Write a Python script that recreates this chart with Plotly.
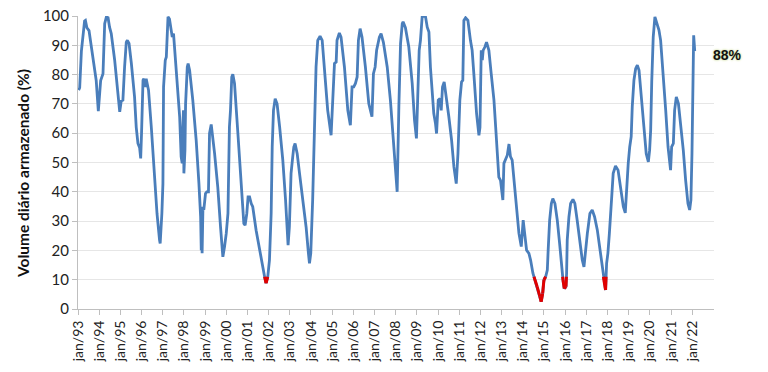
import plotly.graph_objects as go

# Tempo em anos decimais e volume diário armazenado (%)
anos = [
    1993.03, 1993.08, 1993.16, 1993.24, 1993.31, 1993.35, 1993.42, 1993.52, 1993.71, 1993.86,
    1993.96, 1994.02, 1994.07, 1994.18, 1994.26, 1994.34, 1994.42, 1994.49, 1994.57, 1994.73,
    1994.89, 1994.93, 1994.97, 1995.04, 1995.12, 1995.20, 1995.28, 1995.33, 1995.41, 1995.52,
    1995.67, 1995.75, 1995.83, 1995.91, 1995.96, 1996.00, 1996.07, 1996.11, 1996.18, 1996.22,
    1996.27, 1996.33, 1996.46, 1996.62, 1996.73, 1996.85, 1996.88, 1996.96, 1997.01, 1997.04,
    1997.12, 1997.17, 1997.25, 1997.32, 1997.40, 1997.45, 1997.51, 1997.64, 1997.80, 1997.87,
    1997.92, 1997.95, 1997.98, 1998.00, 1998.05, 1998.08, 1998.11, 1998.16, 1998.20, 1998.27,
    1998.42, 1998.58, 1998.71, 1998.79, 1998.82, 1998.83, 1998.86, 1998.90, 1998.94, 1999.02,
    1999.08, 1999.16, 1999.21, 1999.26, 1999.29, 1999.45, 1999.60, 1999.73, 1999.84, 1999.92,
    2000.00, 2000.08, 2000.15, 2000.20, 2000.26, 2000.31, 2000.39, 2000.55, 2000.70, 2000.83,
    2000.89, 2000.97, 2001.03, 2001.10, 2001.18, 2001.25, 2001.41, 2001.57, 2001.73, 2001.81,
    2001.88, 2001.96, 2002.04, 2002.12, 2002.17, 2002.23, 2002.31, 2002.40, 2002.52, 2002.67,
    2002.80, 2002.87, 2002.92, 2002.98, 2003.06, 2003.14, 2003.19, 2003.25, 2003.35, 2003.46,
    2003.61, 2003.77, 2003.88, 2003.93, 2003.99, 2004.04, 2004.08, 2004.16, 2004.24, 2004.32,
    2004.43, 2004.53, 2004.64, 2004.79, 2004.95, 2005.03, 2005.11, 2005.19, 2005.23, 2005.34,
    2005.42, 2005.58, 2005.74, 2005.86, 2005.94, 2006.02, 2006.10, 2006.18, 2006.24, 2006.32,
    2006.41, 2006.57, 2006.73, 2006.88, 2006.95, 2007.03, 2007.10, 2007.23, 2007.31, 2007.42,
    2007.60, 2007.75, 2007.91, 2007.99, 2008.07, 2008.15, 2008.23, 2008.31, 2008.35, 2008.46,
    2008.62, 2008.78, 2008.89, 2008.98, 2009.05, 2009.11, 2009.17, 2009.25, 2009.33, 2009.41,
    2009.49, 2009.57, 2009.64, 2009.80, 2009.88, 2009.93, 2010.01, 2010.09, 2010.15, 2010.21,
    2010.29, 2010.37, 2010.51, 2010.64, 2010.75, 2010.86, 2010.94, 2011.03, 2011.11, 2011.17,
    2011.22, 2011.30, 2011.41, 2011.53, 2011.61, 2011.69, 2011.82, 2011.93, 2011.98, 2012.04,
    2012.09, 2012.13, 2012.21, 2012.29, 2012.40, 2012.51, 2012.64, 2012.72, 2012.79, 2012.87,
    2012.95, 2013.06, 2013.11, 2013.19, 2013.27, 2013.35, 2013.42, 2013.50, 2013.61, 2013.74,
    2013.82, 2013.93, 2013.98, 2014.02, 2014.09, 2014.18, 2014.29, 2014.37, 2014.48, 2014.53,
    2014.68, 2014.81, 2014.87, 2014.94, 2015.00, 2015.08, 2015.16, 2015.20, 2015.27, 2015.35,
    2015.42, 2015.52, 2015.63, 2015.74, 2015.83, 2015.90, 2015.96, 2016.04, 2016.07, 2016.10,
    2016.18, 2016.26, 2016.37, 2016.46, 2016.57, 2016.70, 2016.81, 2016.89, 2016.97, 2017.05,
    2017.09, 2017.17, 2017.28, 2017.39, 2017.52, 2017.65, 2017.75, 2017.83, 2017.91, 2017.96,
    2018.02, 2018.09, 2018.15, 2018.21, 2018.27, 2018.38, 2018.50, 2018.62, 2018.75, 2018.84,
    2018.90, 2018.98, 2019.05, 2019.12, 2019.17, 2019.25, 2019.33, 2019.41, 2019.49, 2019.60,
    2019.72, 2019.83, 2019.93, 2019.99, 2020.04, 2020.09, 2020.16, 2020.24, 2020.32, 2020.43,
    2020.51, 2020.64, 2020.75, 2020.86, 2020.98, 2021.03, 2021.11, 2021.17, 2021.25, 2021.35,
    2021.46, 2021.58, 2021.69, 2021.80, 2021.88, 2021.94, 2021.99, 2022.04, 2022.07, 2022.12,
]

volume = [
    74.7, 75.5, 88.0, 93.0, 98.3, 98.5, 96.0, 95.0, 86.0, 78.0,
    67.5, 75.8, 78.0, 80.3, 97.4, 99.7, 99.4, 96.2, 94.0, 85.0,
    72.4, 68.4, 67.3, 71.0, 71.3, 82.6, 91.1, 91.7, 90.6, 83.8,
    72.4, 62.0, 56.5, 55.0, 51.4, 60.0, 78.1, 78.6, 75.8, 78.6,
    77.0, 74.7, 62.2, 42.8, 32.6, 23.5, 22.4, 32.6, 42.8, 75.8,
    84.9, 86.0, 99.7, 99.0, 96.0, 92.8, 94.0, 82.6, 65.6, 52.0,
    49.7, 62.0, 67.8, 46.3, 54.2, 70.0, 75.8, 82.6, 83.8, 81.5,
    71.3, 57.6, 42.8, 31.5, 20.1, 34.9, 19.0, 34.9, 33.8, 39.4,
    40.0, 40.0, 59.9, 62.7, 63.0, 53.0, 41.6, 28.0, 17.8, 21.3,
    25.8, 32.6, 62.2, 67.8, 79.2, 80.1, 77.0, 59.9, 42.8, 29.2,
    28.6, 32.6, 38.3, 38.3, 36.0, 34.9, 26.9, 20.1, 13.3, 11.0,
    8.8, 11.0, 16.7, 32.6, 55.3, 67.8, 71.8, 70.0, 62.2, 50.8,
    37.2, 26.9, 21.8, 28.0, 46.3, 52.0, 55.3, 56.5, 53.0, 46.3,
    37.2, 28.0, 19.0, 15.6, 19.0, 26.9, 37.2, 59.9, 82.6, 91.7,
    93.1, 91.7, 82.6, 67.8, 59.3, 73.5, 83.8, 84.3, 91.7, 94.2,
    92.8, 82.6, 67.8, 62.7, 75.8, 75.8, 77.0, 79.2, 91.7, 95.7,
    92.8, 82.6, 70.1, 65.6, 80.3, 82.6, 88.3, 92.8, 94.0, 91.0,
    82.6, 71.3, 54.2, 45.0, 40.0, 69.0, 90.6, 97.4, 98.0, 96.0,
    89.4, 77.0, 64.4, 58.2, 80.3, 88.3, 91.7, 99.7, 100.0, 99.7,
    96.2, 94.5, 82.6, 66.7, 63.3, 59.9, 71.3, 71.8, 67.8, 75.8,
    77.5, 73.5, 65.6, 57.6, 48.5, 42.8, 53.0, 71.3, 77.5, 78.1,
    98.5, 99.4, 98.5, 91.7, 88.3, 80.3, 66.7, 59.3, 62.0, 88.3,
    84.9, 88.3, 89.4, 91.1, 88.3, 80.3, 71.3, 62.2, 54.2, 45.0,
    43.9, 37.2, 49.7, 51.4, 52.5, 56.3, 52.0, 50.8, 41.7, 32.6,
    25.8, 21.3, 28.0, 30.3, 25.8, 20.1, 19.0, 16.7, 12.2, 11.0,
    7.6, 4.2, 2.5, 5.3, 9.9, 11.0, 13.3, 20.1, 30.3, 36.0,
    37.7, 36.0, 30.3, 22.4, 14.4, 9.9, 7.0, 7.6, 12.2, 23.5,
    31.4, 36.0, 37.4, 36.0, 30.3, 22.4, 16.7, 14.4, 21.3, 25.8,
    28.0, 32.6, 33.8, 31.5, 27.0, 20.1, 14.4, 9.9, 6.5, 15.6,
    19.0, 25.8, 31.4, 39.4, 46.3, 48.8, 47.4, 41.7, 34.9, 32.8,
    41.7, 49.7, 55.3, 58.8, 69.0, 78.1, 82.0, 83.2, 81.5, 73.5,
    62.2, 53.0, 50.2, 54.2, 61.1, 77.5, 92.8, 99.7, 98.0, 95.2,
    91.7, 80.3, 67.8, 55.3, 47.4, 55.3, 56.5, 67.8, 72.4, 70.1,
    63.3, 54.2, 44.0, 36.0, 33.8, 37.2, 53.0, 71.3, 93.4, 88.0,
]

anos_ticks = list(range(1993, 2023))
rotulos = ["jan/%02d" % (a % 100) for a in anos_ticks]
y_ticks = list(range(0, 101, 10))
LIMIAR = 11.0  # abaixo deste nível a linha fica vermelha

# Trechos vermelhos (abaixo do limiar), com interpolação no cruzamento
rx, ry = [], []
for i in range(len(anos) - 1):
    x0, y0, x1, y1 = anos[i], volume[i], anos[i + 1], volume[i + 1]
    b0, b1 = y0 < LIMIAR, y1 < LIMIAR
    if not b0 and not b1:
        continue
    if b0 and b1:
        sx, sy, ex, ey = x0, y0, x1, y1
    elif b1:
        f = (LIMIAR - y0) / (y1 - y0)
        sx, sy, ex, ey = x0 + f * (x1 - x0), LIMIAR, x1, y1
    else:
        f = (LIMIAR - y0) / (y1 - y0)
        sx, sy, ex, ey = x0, y0, x0 + f * (x1 - x0), LIMIAR
    rx += [sx, ex, None]
    ry += [sy, ey, None]

fig = go.Figure()
fig.add_trace(go.Scatter(x=anos, y=volume, mode="lines",
                         line=dict(color="#4a7ebb", width=2.8), hoverinfo="skip"))
fig.add_trace(go.Scatter(x=rx, y=ry, mode="lines",
                         line=dict(color="#e00000", width=3), hoverinfo="skip"))

fig.update_layout(
    width=768, height=372,
    margin=dict(l=78, r=54, t=16, b=63, autoexpand=False),
    paper_bgcolor="white", plot_bgcolor="white",
    showlegend=False, hovermode=False,
    font=dict(family="Lato", size=13, color="#222222"),
    xaxis=dict(
        range=[1993, 2023.03], tickmode="array", tickvals=anos_ticks, ticktext=rotulos,
        tickangle=-90, showgrid=False, zeroline=False, automargin=False,
        showline=True, linecolor="#bfbfbf", linewidth=1,
        ticks="outside", ticklen=5, tickcolor="#bfbfbf",
        tickfont=dict(family="Lato", size=14, color="#222222"),
    ),
    yaxis=dict(
        range=[0, 100], tickmode="array", tickvals=y_ticks,
        showgrid=True, gridcolor="#e6e6e6", gridwidth=1, zeroline=False, automargin=False,
        showline=True, linecolor="#bfbfbf", linewidth=1,
        ticks="outside", ticklen=5, tickcolor="#bfbfbf",
        tickfont=dict(family="Lato", size=15, color="#222222"),
    ),
)

fig.add_annotation(
    text="<b>Volume diário armazenado (%)</b>", textangle=-90,
    xref="paper", yref="paper", x=-0.0865, y=0.464, xanchor="center", yanchor="middle",
    showarrow=False,
    font=dict(family="Lato", size=15.5, color="#111111"),
)
fig.add_annotation(
    text="<b>%d%%</b>" % round(volume[-1]),
    xref="paper", yref="y", x=1.022, y=volume[-1] - 1.3, xanchor="center", yanchor="middle",
    showarrow=False,
    font=dict(family="Liberation Sans", size=14, color="#111111",
              shadow="0 0 2px #c9d99a, 0 0 3px #dfe8b8"),
)

fig.write_html("out.html", config={"displayModeBar": False, "staticPlot": True},
               post_script="document.body.style.margin='0px';")
